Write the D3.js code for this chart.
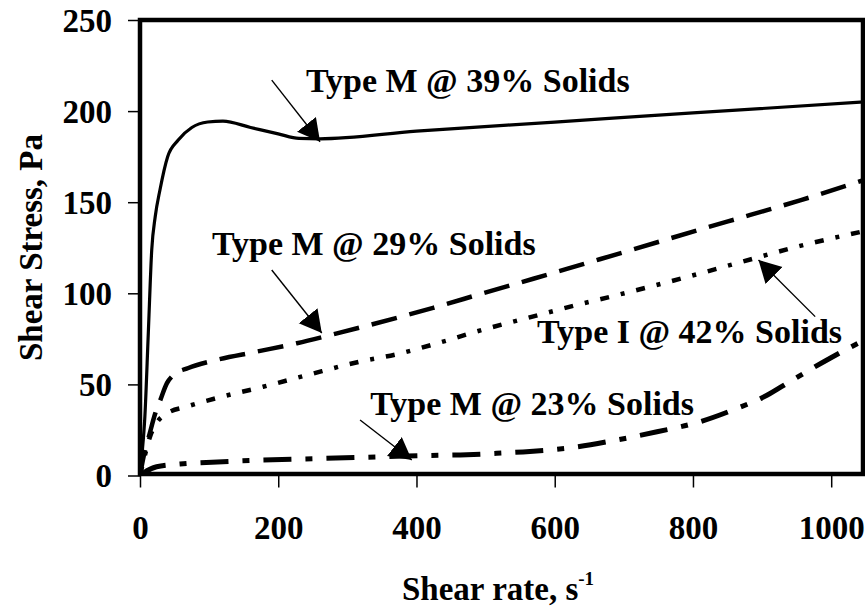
<!DOCTYPE html>
<html>
<head>
<meta charset="utf-8">
<script src="https://cdn.jsdelivr.net/npm/d3@7"></script>
<style>
  html, body { margin: 0; padding: 0; background: #fff; }
  svg { display: block; }
  text { font-family: "Liberation Serif", "Times New Roman", serif; font-weight: bold; fill: #000; }
</style>
</head>
<body>
<svg id="chart" width="865" height="612"></svg>
<script>
// ---------- DATA ----------
const xTicks = [0, 200, 400, 600, 800, 1000];
const yTicks = [0, 50, 100, 150, 200, 250];

// Type M @ 39% Solids (solid)
const m39Rate   = [0, 3, 7, 12, 17, 22, 29, 40, 55, 75, 98, 120, 160, 200, 230, 260, 400, 600, 800, 1046];
const m39Stress = [0, 12, 32, 78, 124, 142, 157, 175, 184, 191, 194, 194.5, 191, 187.5, 185, 184.8, 189, 194, 199, 205];

// Type M @ 29% Solids (dashed)
const m29Rate   = [0, 5, 14, 22, 29, 39, 48, 70, 106, 169, 227, 285, 376, 424, 496, 569, 641, 713, 810, 883, 955, 1046];
const m29Stress = [0, 10, 23, 34, 41, 50.7, 55, 59, 63, 68, 72.6, 78, 87, 92, 100, 108, 116, 124, 135, 143, 151, 162];

// Type I @ 42% Solids (dotted)
const i42Rate   = [0, 7, 14.5, 24, 38.6, 67.5, 116, 178, 241, 318, 371, 434, 496, 560, 632, 690, 762, 835, 887, 955, 1046];
const i42Stress = [0, 11, 21.3, 28.8, 34, 37.8, 43, 48.7, 55, 62.5, 66.5, 73, 80, 86.4, 93.6, 99, 106, 113.5, 119, 126, 134];

// Type M @ 23% Solids (dash-dot)
const m23Rate   = [0, 5, 24, 58, 120, 178, 250, 371, 420, 473, 516, 564, 618, 690, 748, 810, 858, 907, 940, 999, 1046];
const m23Stress = [0, 1.4, 4.8, 6.3, 7.6, 8.5, 9.2, 10.5, 11, 11.4, 12.2, 13.2, 15, 19.5, 24, 29.5, 36, 44, 51.5, 64.5, 74];

// Annotation labels and arrows (data units)
const labelTexts = ["Type M @ 39% Solids", "Type M @ 29% Solids", "Type I @ 42% Solids", "Type M @ 23% Solids"];
const labelRate   = [240, 104, 574.5, 333];
const labelStress = [210.5, 121, 72.7, 33.2];
const arrowFromRate   = [190.6, 190.6, 976.8, 318.4];
const arrowFromStress = [217, 112.8, 87.2, 30.5];
const arrowToRate     = [260.5, 263, 894.8, 393.2];
const arrowToStress   = [183.2, 78.2, 118.3, 8.5];

// ---------- CHART ----------
const svg = d3.select("#chart");
const pLeft = 140, pRight = 863, pTop = 20, pBottom = 475.5;
const x = d3.scaleLinear().domain([0, 1046]).range([pLeft, pRight]);
const y = d3.scaleLinear().domain([0, 250]).range([pBottom, pTop]);

// axes
const yAxis = svg.append("g").attr("transform", `translate(${pLeft},0)`)
  .call(d3.axisLeft(y).tickValues(yTicks).tickSize(12).tickPadding(16).tickFormat(d3.format("d")));
const xAxis = svg.append("g").attr("transform", `translate(0,${pBottom})`)
  .call(d3.axisBottom(x).tickValues(xTicks).tickSize(12).tickPadding(28).tickFormat(d3.format("d")));
[yAxis, xAxis].forEach(g => {
  g.select(".domain").remove();
  g.selectAll(".tick line").attr("stroke", "#000").attr("stroke-width", 1.5);
  g.selectAll(".tick text").style("font-size", "33px").style("font-family", "'Liberation Serif', 'Times New Roman', serif").style("font-weight", "bold").attr("fill", "#000");
});
yAxis.selectAll(".tick text").attr("dy", "0.34em");

// series
const line = d3.line().x(d => x(d[0])).y(d => y(d[1])).curve(d3.curveMonotoneX);
const series = [
  { r: m39Rate, s: m39Stress, w: 3.2, dash: null },
  { r: m29Rate, s: m29Stress, w: 4.5, dash: "26,13" },
  { r: i42Rate, s: i42Stress, w: 4.5, dash: "9,12,4,12" },
  { r: m23Rate, s: m23Stress, w: 5, dash: "28,14,7,14" }
];
svg.append("clipPath").attr("id", "plotclip").append("rect")
  .attr("x", pLeft).attr("y", pTop).attr("width", pRight - pLeft).attr("height", pBottom - pTop);
series.forEach(sr => {
  const pts = sr.r.map((v, i) => [v, sr.s[i]]);
  svg.append("path").datum(pts)
    .attr("d", line)
    .attr("fill", "none")
    .attr("stroke", "#000")
    .attr("stroke-width", sr.w)
    .attr("stroke-dasharray", sr.dash)
    .attr("clip-path", "url(#plotclip)");
});

// frame
svg.append("rect").attr("x", pLeft).attr("y", pTop)
  .attr("width", pRight - pLeft).attr("height", pBottom - pTop - 1.5)
  .attr("fill", "none").attr("stroke", "#000").attr("stroke-width", 4.5);

// arrows
svg.append("defs").append("marker")
  .attr("id", "head").attr("markerUnits", "userSpaceOnUse")
  .attr("markerWidth", 24).attr("markerHeight", 26)
  .attr("refX", 22).attr("refY", 12).attr("orient", "auto")
  .append("path").attr("d", "M0,0 L22,12 L0,24 Z").attr("fill", "#000");
arrowFromRate.forEach((v, i) => {
  svg.append("line")
    .attr("x1", x(v)).attr("y1", y(arrowFromStress[i]))
    .attr("x2", x(arrowToRate[i])).attr("y2", y(arrowToStress[i]))
    .attr("stroke", "#000").attr("stroke-width", 1.4)
    .attr("marker-end", "url(#head)");
});

// labels
labelTexts.forEach((t, i) => {
  svg.append("text").attr("x", x(labelRate[i])).attr("y", y(labelStress[i]))
    .style("font-size", "34px").text(t);
});

// axis titles
svg.append("text").attr("transform", "translate(42,247.5) rotate(-90)")
  .attr("text-anchor", "middle").style("font-size", "33px").text("Shear Stress, Pa");
const xt = svg.append("text").attr("x", 402).attr("y", 600).style("font-size", "33px");
xt.append("tspan").text("Shear rate, s");
xt.append("tspan").attr("dy", -15).style("font-size", "19px").text("-1");
</script>
</body>
</html>
